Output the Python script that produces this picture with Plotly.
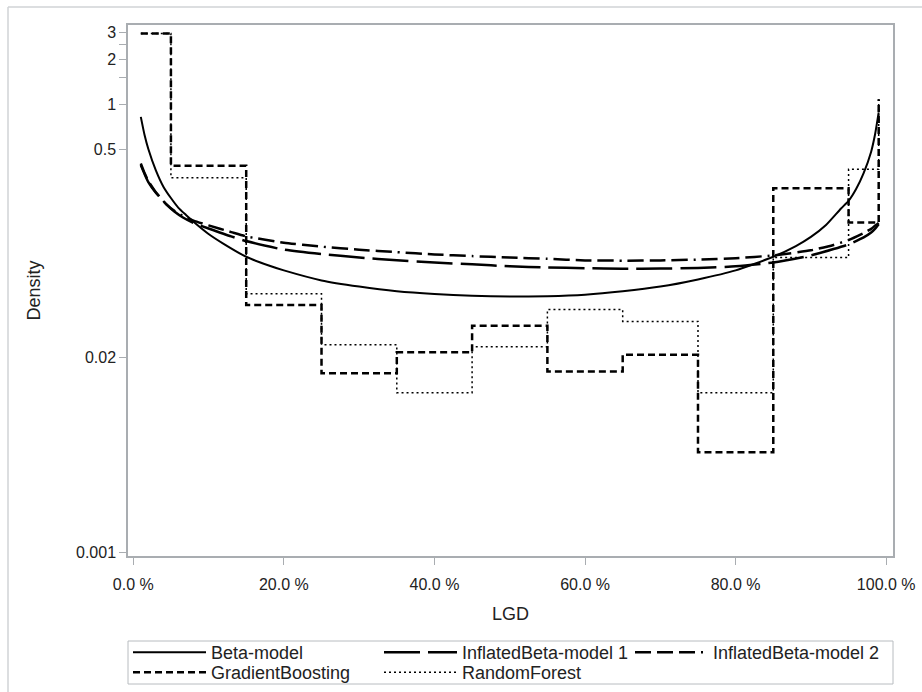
import plotly.graph_objects as go

# ---- data (LGD in percent) ----
beta_x = [1, 1.5, 2, 3, 4, 5, 6, 7, 8, 10, 12, 15, 18, 20, 25, 30, 35, 40, 45, 50,
          55, 60, 65, 70, 75, 80, 85, 88, 90, 92, 94, 95, 96, 97, 98, 98.5, 99]
beta_y = [0.82, 0.62, 0.50, 0.36, 0.28, 0.235, 0.202, 0.181, 0.163, 0.135, 0.116, 0.095,
          0.083, 0.077, 0.066, 0.060, 0.0558, 0.0535, 0.0522, 0.0515, 0.0518, 0.0530,
          0.0558, 0.0600, 0.0670, 0.0770, 0.0950, 0.112, 0.129, 0.155, 0.200, 0.225,
          0.270, 0.345, 0.48, 0.62, 0.88]

ib_x = [1, 1.5, 2, 3, 4.4, 5.5, 6.6, 8, 10, 13, 15, 20, 25, 30, 35, 40, 45, 50, 55,
        60, 65, 70, 75, 80, 85, 90, 93, 95, 97, 98, 98.5, 99]
ib1_y = [0.39, 0.34, 0.30, 0.255, 0.213, 0.19, 0.174, 0.160, 0.147, 0.130, 0.121, 0.106,
         0.099, 0.094, 0.090, 0.087, 0.0845, 0.082, 0.0805, 0.0797, 0.079, 0.0792, 0.080,
         0.082, 0.087, 0.097, 0.107, 0.115, 0.128, 0.138, 0.146, 0.157]
ib2_y = [0.40, 0.345, 0.305, 0.257, 0.213, 0.192, 0.178, 0.166, 0.154, 0.139, 0.130, 0.118,
         0.111, 0.106, 0.102, 0.0985, 0.096, 0.094, 0.092, 0.0898, 0.0895, 0.0898, 0.091,
         0.093, 0.097, 0.105, 0.114, 0.123, 0.137, 0.146, 0.153, 0.160]

step_x = [1, 5, 15, 25, 35, 45, 55, 65, 75, 85, 95, 99]
gb_y = [2.97, 0.387, 0.0452, 0.0158, 0.0218, 0.0328, 0.0162, 0.0210, 0.00467, 0.273, 0.161, 1.075]
rf_y = [2.97, 0.321, 0.0538, 0.0245, 0.0117, 0.0237, 0.0421, 0.0351, 0.0117, 0.094, 0.366, 1.075]

x_tickvals = [0, 20, 40, 60, 80, 100]
x_ticktext = ["0.0 %", "20.0 %", "40.0 %", "60.0 %", "80.0 %", "100.0 %"]
y_tickvals = [0.001, 0.02, 0.5, 1, 1.5, 2, 2.5, 3]
y_ticktext = ["0.001", "0.02", "0.5", "1", "", "2", "", "3"]

fig = go.Figure()
fig.add_trace(go.Scatter(x=beta_x, y=beta_y, mode="lines", name="Beta-model", legend="legend",
                         line=dict(color="black", width=2, shape="spline", smoothing=0.5)))
fig.add_trace(go.Scatter(x=ib_x, y=ib1_y, mode="lines", name="InflatedBeta-model 1", legend="legend",
                         line=dict(color="black", width=2.5, dash="36px,8px",
                                   shape="spline", smoothing=0.5)))
fig.add_trace(go.Scatter(x=ib_x, y=ib2_y, mode="lines", name="InflatedBeta-model 2", legend="legend",
                         line=dict(color="black", width=2.5,
                                   dash="16px,6px,16px,6px,16px,6px,2px,6px",
                                   shape="spline", smoothing=0.5)))
fig.add_trace(go.Scatter(x=step_x, y=gb_y, mode="lines", name="GradientBoosting", legend="legend2",
                         line=dict(color="black", width=2.5, dash="7px,4px", shape="hv")))
fig.add_trace(go.Scatter(x=step_x, y=rf_y, mode="lines", name="RandomForest", legend="legend2",
                         line=dict(color="black", width=1.5, dash="2px,3px", shape="hv")))

axis_gray = "#a9adb1"
fig.update_xaxes(range=[-0.7, 100.9], tickvals=x_tickvals, ticktext=x_ticktext,
                 ticks="outside", ticklen=7, tickcolor=axis_gray, showline=True,
                 linecolor=axis_gray, linewidth=1.5, mirror=True, showgrid=False,
                 zeroline=False, tickfont=dict(size=16), ticklabelstandoff=6,
                 title=dict(text="LGD", font=dict(size=18), standoff=15))
fig.update_yaxes(type="log", range=[-3.025, 0.529], tickvals=y_tickvals, ticktext=y_ticktext,
                 ticks="outside", ticklen=7, tickcolor=axis_gray, showline=True,
                 linecolor=axis_gray, linewidth=1.5, mirror=True, showgrid=False,
                 zeroline=False, tickfont=dict(size=16),
                 title=dict(text="Density", font=dict(size=18), standoff=31))

PH = 531.0  # plot-area height in px
PW = 765.0  # plot-area width in px


def py(pix):
    return (556 - pix) / PH


def px(pix):
    return (pix - 128) / PW


leg_common = dict(orientation="h", x=0, xanchor="left", yanchor="top",
                  bgcolor="rgba(0,0,0,0)", borderwidth=0, itemwidth=73,
                  entrywidth=163, entrywidthmode="pixels", traceorder="normal",
                  font=dict(size=18, color="#222"))

legend_box = "#b8bcc0"
fig.update_layout(
    width=922, height=692,
    margin=dict(l=128, r=29, t=25, b=136, autoexpand=False),
    plot_bgcolor="white", paper_bgcolor="white",
    font=dict(family="Liberation Sans, Arial, sans-serif", size=16, color="#222"),
    showlegend=True,
    legend=dict(y=py(634), **leg_common),
    legend2=dict(y=py(654), **leg_common),
    shapes=[
        dict(type="line", xref="paper", yref="paper", x0=0, x1=1, y0=py(641), y1=py(641),
             line=dict(color=legend_box, width=1)),
        dict(type="line", xref="paper", yref="paper", x0=0, x1=1, y0=py(684), y1=py(684),
             line=dict(color=legend_box, width=1)),
        dict(type="line", xref="paper", yref="paper", x0=0, x1=0, y0=py(641), y1=py(684),
             line=dict(color=legend_box, width=1)),
        dict(type="line", xref="paper", yref="paper", x0=1, x1=1, y0=py(641), y1=py(684),
             line=dict(color=legend_box, width=1)),
        dict(type="line", xref="paper", yref="paper",
             x0=px(8), x1=px(922), y0=py(7), y1=py(7),
             line=dict(color="#d0d3d6", width=1.5)),
        dict(type="line", xref="paper", yref="paper",
             x0=px(8), x1=px(8), y0=py(7), y1=py(692),
             line=dict(color="#d0d3d6", width=1.5)),
    ],
)

fig.write_html("out.html", config={"displayModeBar": False},
               post_script="document.body.style.margin='0';document.body.style.overflow='hidden';")
